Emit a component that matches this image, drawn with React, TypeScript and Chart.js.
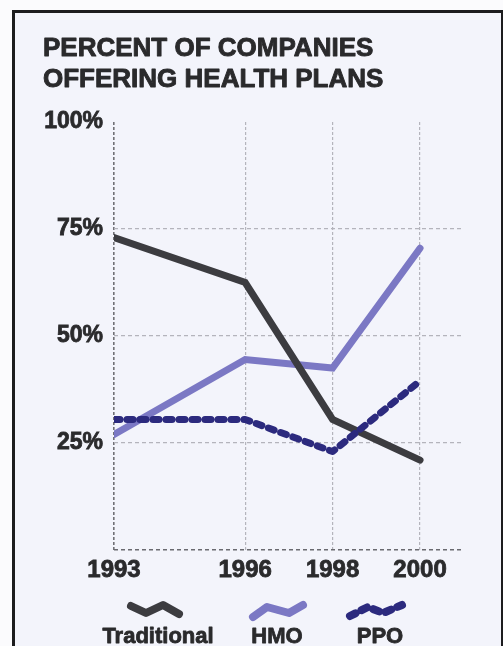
import React, { useEffect, useRef } from "react";
import { Chart, registerables } from "chart.js";

Chart.register(...registerables);

const titleLines = ["PERCENT OF COMPANIES", "OFFERING HEALTH PLANS"];
const years = [1993, 1996, 1998, 2000];
const yTicks = [25, 50, 75, 100];
const seriesNames = ["Traditional", "HMO", "PPO"];
const traditional = [73, 62.5, 30.5, 21];
const hmo = [27, 44.5, 42.5, 70.5];
const ppo = [30.5, 30.5, 23, 39.5];

const COLORS = {
  Traditional: "#3c3c40",
  HMO: "#7b78c4",
  PPO: "#2c2a7e",
};

const FONT = '"Liberation Sans", Arial, sans-serif';
const TEXT = "#2a2a2c";

const overlayPlugin = {
  id: "overlay",
  afterDraw(chart: any) {
    const ctx = chart.ctx as CanvasRenderingContext2D;
    ctx.save();
    // title
    ctx.fillStyle = TEXT;
    ctx.strokeStyle = TEXT;
    ctx.lineWidth = 0.9;
    ctx.lineJoin = "round";
    ctx.font = `bold 26px ${FONT}`;
    ctx.textAlign = "left";
    ctx.textBaseline = "alphabetic";
    ctx.fillText(titleLines[0], 43, 56);
    ctx.strokeText(titleLines[0], 43, 56);
    ctx.fillText(titleLines[1], 43, 87);
    ctx.strokeText(titleLines[1], 43, 87);

    // legend
    const items = [
      { name: seriesNames[0], cx: 158, pts: [[131, 606], [146, 613], [163, 605], [179, 614]], dash: [] as number[] },
      { name: seriesNames[1], cx: 277, pts: [[253, 617], [267, 607], [289, 613], [303, 605]], dash: [] as number[] },
      { name: seriesNames[2], cx: 380, pts: [[350, 616], [368, 607], [383, 613], [402, 605]], dash: [6, 7] },
    ];
    for (const it of items) {
      const color = (COLORS as any)[it.name];
      ctx.strokeStyle = color;
      ctx.lineWidth = 8;
      ctx.lineCap = "round";
      ctx.lineJoin = "round";
      ctx.setLineDash(it.dash);
      ctx.beginPath();
      it.pts.forEach((p, i) => (i === 0 ? ctx.moveTo(p[0], p[1]) : ctx.lineTo(p[0], p[1])));
      ctx.stroke();
      ctx.setLineDash([]);
      ctx.fillStyle = TEXT;
      ctx.strokeStyle = TEXT;
      ctx.lineWidth = 0.8;
      ctx.font = `bold 22px ${FONT}`;
      ctx.textAlign = "center";
      ctx.fillText(it.name, it.cx, 643);
      ctx.strokeText(it.name, it.cx, 643);
    }
    ctx.restore();
  },
};

export default function App() {
  const ref = useRef<HTMLCanvasElement>(null);

  useEffect(() => {
    if (!ref.current) return;
    const mk = (vals: number[]) => years.map((x, i) => ({ x, y: vals[i] }));
    const chart = new Chart(ref.current, {
      type: "line",
      data: {
        datasets: [
          {
            label: seriesNames[0],
            data: mk(traditional),
            borderColor: COLORS.Traditional,
            borderWidth: 7,
            borderCapStyle: "round",
            borderJoinStyle: "miter",
            pointRadius: 0,
            tension: 0,
            order: 1,
          },
          {
            label: seriesNames[1],
            data: mk(hmo),
            borderColor: COLORS.HMO,
            borderWidth: 7,
            borderCapStyle: "round",
            borderJoinStyle: "miter",
            pointRadius: 0,
            tension: 0,
            order: 2,
          },
          {
            label: seriesNames[2],
            data: mk(ppo),
            borderColor: COLORS.PPO,
            borderWidth: 7,
            borderCapStyle: "round",
            borderJoinStyle: "round",
            borderDash: [6, 7],
            pointRadius: 0,
            tension: 0,
            order: 0,
          },
        ],
      },
      options: {
        animation: false,
        responsive: false,
        layout: { padding: { left: 0, right: 41, top: 122, bottom: 56 } },
        plugins: {
          legend: { display: false },
          title: { display: false },
          tooltip: { enabled: false },
        },
        scales: {
          x: {
            type: "linear",
            min: 1993,
            max: 2000.96,
            afterBuildTicks: (scale: any) => {
              scale.ticks = years.map((v) => ({ value: v }));
            },
            afterFit: (scale: any) => {
              scale.height = 40;
            },
            ticks: {
              padding: 6,
              color: TEXT,
              textStrokeColor: TEXT,
              textStrokeWidth: 0.8,
              font: { family: FONT, size: 24, weight: "bold" },
              callback: (v: any) => String(v),
              maxRotation: 0,
              autoSkip: false,
            },
            grid: {
              drawTicks: false,
              lineWidth: (c: any) => (c.tick && c.tick.value === 1993 ? 1.6 : 1.2),
              color: (c: any) => (c.tick && c.tick.value === 1993 ? "#707076" : "#b4b4bc"),
            },
            border: { display: false, dash: [3, 2] },
          },
          y: {
            type: "linear",
            min: 0,
            max: 100,
            afterBuildTicks: (scale: any) => {
              scale.ticks = [0, ...yTicks].map((v) => ({ value: v }));
            },
            afterFit: (scale: any) => {
              scale.width = 114;
            },
            ticks: {
              padding: 11,
              color: TEXT,
              textStrokeColor: TEXT,
              textStrokeWidth: 0.8,
              font: { family: FONT, size: 23, weight: "bold" },
              callback: (v: any) => (v === 0 ? "" : `${v}%`),
            },
            grid: {
              drawTicks: false,
              lineWidth: (c: any) => (c.tick && c.tick.value === 0 ? 1.6 : 1.2),
              color: (c: any) =>
                c.tick && c.tick.value === 100
                  ? "rgba(0,0,0,0)"
                  : c.tick && c.tick.value === 0
                  ? "#6a6a70"
                  : "#b4b4bc",
            },
            border: { display: false, dash: [4, 3] },
          },
        },
      },
      plugins: [overlayPlugin],
    });
    return () => chart.destroy();
  }, []);

  return (
    <div style={{ position: "fixed", left: 0, top: 0, width: 503, height: 646, background: "#fbfbfd", overflow: "hidden" }}>
      <div
        style={{
          position: "absolute",
          left: 12,
          top: 10,
          width: 486,
          height: 700,
          border: "3px solid #1c1c1e",
          background: "#f3f4fb",
        }}
      />
      <canvas ref={ref} width={503} height={646} style={{ position: "absolute", left: 0, top: 0 }} />
    </div>
  );
}
